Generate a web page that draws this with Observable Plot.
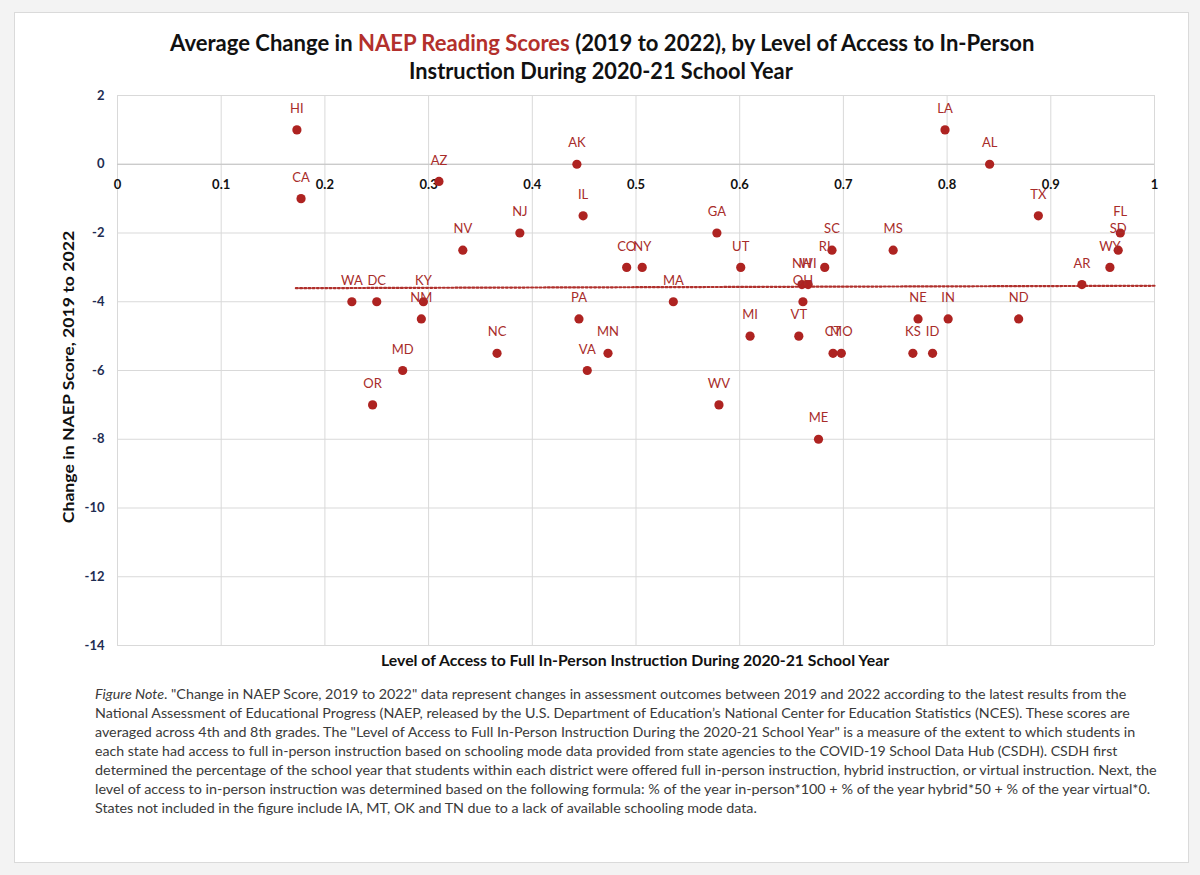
<!DOCTYPE html>
<html>
<head>
<meta charset="utf-8">
<script src="https://cdn.jsdelivr.net/npm/d3@7"></script>
<script src="https://cdn.jsdelivr.net/npm/@observablehq/plot@0.6"></script>
<style>
  html, body { margin: 0; padding: 0; background: #f3f3f3; }
  body { font-family: Lato, "Open Sans", "Liberation Sans", sans-serif; }
  #page { position: relative; width: 1200px; height: 875px; overflow: hidden; }
  #card { position: absolute; left: 14px; top: 12px; width: 1173px; height: 849px; background: #fff; border: 1px solid #dadada; }
  #chart { position: absolute; left: 0; top: 0; }
  .t { position: absolute; white-space: nowrap; transform-origin: 0 50%; }
  .title { font-weight: 700; font-size: 22px; line-height: 26px; color: #111; }
  .title .red { color: #b3302c; }
  .axt { font-weight: 700; font-size: 15px; line-height: 18px; color: #111; }
  .note { font-size: 14px; line-height: 19px; color: #3a3a3a; }
</style>
</head>
<body>
<div id="page">
  <div id="card"></div>
  <div id="chart"></div>
  <div class="t title" data-w="864" style="left:170px;top:30px;">Average Change in <span class="red">NAEP Reading Scores</span> (2019 to 2022), by Level of Access to In-Person</div>
  <div class="t title" data-w="384" style="left:409px;top:58px;">Instruction During 2020-21 School Year</div>
  <div class="t axt" data-w="508" style="left:381px;top:651px;">Level of Access to Full In-Person Instruction During 2020-21 School Year</div>
  <div class="t axt" id="ytitle" style="left:0px;top:0px;">Change in NAEP Score, 2019 to 2022</div>
  <div class="t note" data-w="1031" style="left:95px;top:684px;"><i>Figure Note</i>. "Change in NAEP Score, 2019 to 2022" data represent changes in assessment outcomes between 2019 and 2022 according to the latest results from the</div>
  <div class="t note" data-w="1035" style="left:95px;top:703px;">National Assessment of Educational Progress (NAEP, released by the U.S. Department of Education’s National Center for Education Statistics (NCES). These scores are</div>
  <div class="t note" data-w="1040" style="left:95px;top:722px;">averaged across 4th and 8th grades. The "Level of Access to Full In-Person Instruction During the 2020-21 School Year" is a measure of the extent to which students in</div>
  <div class="t note" data-w="1022" style="left:95px;top:741px;">each state had access to full in-person instruction based on schooling mode data provided from state agencies to the COVID-19 School Data Hub (CSDH). CSDH first</div>
  <div class="t note" data-w="1062" style="left:95px;top:760px;">determined the percentage of the school year that students within each district were offered full in-person instruction, hybrid instruction, or virtual instruction. Next, the</div>
  <div class="t note" data-w="1055" style="left:95px;top:779px;">level of access to in-person instruction was determined based on the following formula: % of the year in-person*100 + % of the year hybrid*50 + % of the year virtual*0.</div>
  <div class="t note" data-w="662" style="left:95px;top:798px;">States not included in the figure include IA, MT, OK and TN due to a lack of available schooling mode data.</div>
</div>
<script>
// ---- Data ----
const states = ["HI","CA","AZ","AK","IL","NJ","NV","CO","NY","WA","DC","KY","NM","MD","OR","NC","PA","MN","VA","GA","UT","MA","SC","RI","MS","NH","WI","OH","VT","MI","CT","MO","ME","WV","NE","IN","KS","ID","ND","AR","WY","SD","FL","TX","LA","AL"];
const access = [0.173,0.177,0.310,0.443,0.449,0.388,0.333,0.491,0.506,0.226,0.250,0.295,0.293,0.275,0.246,0.366,0.445,0.473,0.453,0.578,0.601,0.536,0.689,0.682,0.748,0.660,0.666,0.661,0.657,0.610,0.690,0.698,0.676,0.580,0.772,0.801,0.767,0.786,0.869,0.930,0.957,0.965,0.967,0.888,0.798,0.841];
const change = [1,-1,-0.5,0,-1.5,-2,-2.5,-3,-3,-4,-4,-4,-4.5,-6,-7,-5.5,-4.5,-5.5,-6,-2,-3,-4,-2.5,-3,-2.5,-3.5,-3.5,-4,-5,-5,-5.5,-5.5,-8,-7,-4.5,-4.5,-5.5,-5.5,-4.5,-3.5,-3,-2.5,-2,-1.5,1,0];
const trendAccess = [0.172, 1.0];
const trendChange = [-3.605, -3.535];
const xTicks = [0,0.1,0.2,0.3,0.4,0.5,0.6,0.7,0.8,0.9,1];
const xTickLabels = ["0","0.1","0.2","0.3","0.4","0.5","0.6","0.7","0.8","0.9","1"];
const yTicks = [2,0,-2,-4,-6,-8,-10,-12,-14];

const points = states.map((s, i) => ({state: s, access: access[i], change: change[i]}));
const trend = trendAccess.map((a, i) => ({access: a, change: trendChange[i]}));
const xt = xTicks.map((v, i) => ({v, label: xTickLabels[i]}));

const dotColor = "#ae2321";
const labelColor = "#a82c2a";

const chart = Plot.plot({
  width: 1200,
  height: 875,
  marginLeft: 117,
  marginRight: 46,
  marginTop: 95,
  marginBottom: 230,
  style: { background: "transparent", fontFamily: "Lato, 'Open Sans', sans-serif" },
  x: { domain: [0, 1], axis: null },
  y: { domain: [-14, 2], axis: null },
  marks: [
    Plot.gridX(xTicks, { stroke: "#d9d9d9", strokeOpacity: 1, strokeWidth: 1 }),
    Plot.gridY(yTicks, { stroke: "#d9d9d9", strokeOpacity: 1, strokeWidth: 1 }),
    Plot.ruleY([0], { stroke: "#c4c4c4", strokeWidth: 1 }),
    Plot.axisY(yTicks, { tickSize: 0, tickPadding: 13, fontWeight: "bold", fontSize: 13, fill: "#1f2d52", label: null, tickFormat: d => d < 0 ? "-" + Math.abs(d) : String(d) }),
    Plot.text(xt, { x: "v", y: () => 0, text: "label", dy: 21, fontWeight: "bold", fontSize: 13, fill: "#111" }),
    Plot.line(trend, { x: "access", y: "change", stroke: "#b0302c", strokeWidth: 2.2, strokeDasharray: "2,2.2" }),
    Plot.dot(points, { x: "access", y: "change", r: 4.6, fill: dotColor, stroke: "none" }),
    Plot.text(points, { x: "access", y: "change", text: "state", dy: -21, fontSize: 13, fill: labelColor })
  ]
});
document.getElementById("chart").appendChild(chart);

// fit text widths to the reference's measured widths
document.querySelectorAll("[data-w]").forEach(el => {
  const w = el.offsetWidth;
  const target = +el.dataset.w;
  el.style.transform = `scaleX(${target / w})`;
});
// rotated y-axis title centered at (68, 377), length ~292
(function () {
  const el = document.getElementById("ytitle");
  const w = el.offsetWidth, h = el.offsetHeight;
  const target = 292;
  const cx = 68, cy = 377;
  el.style.transformOrigin = "50% 50%";
  el.style.left = (cx - w / 2) + "px";
  el.style.top = (cy - h / 2) + "px";
  el.style.transform = `rotate(-90deg) scaleX(${target / w})`;
})();
</script>
</body>
</html>
